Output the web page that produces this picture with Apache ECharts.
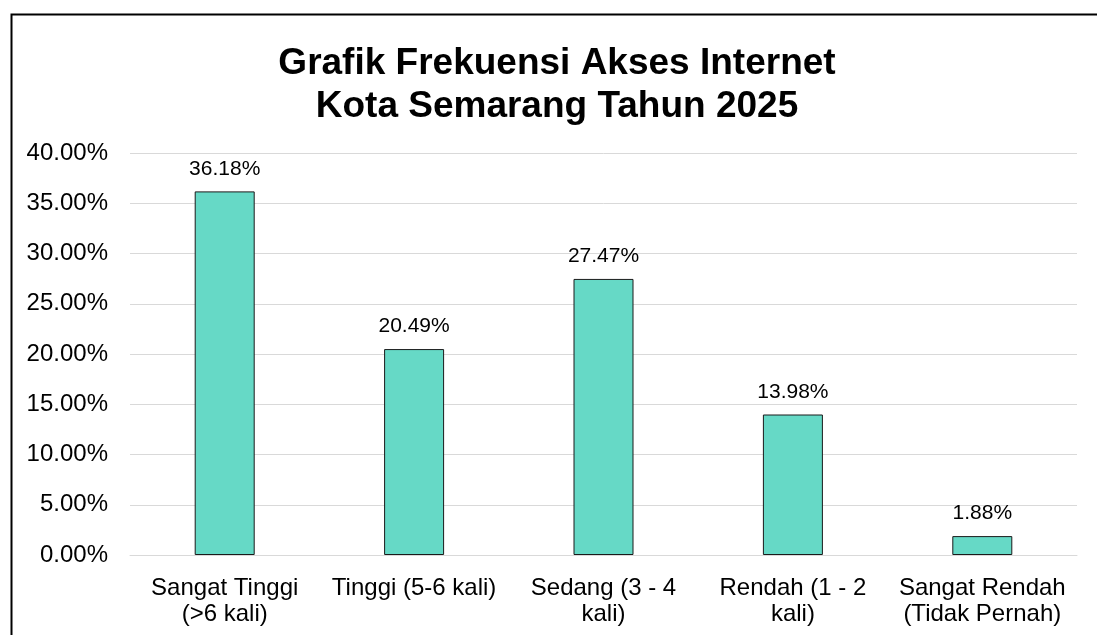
<!DOCTYPE html>
<html>
<head>
<meta charset="utf-8">
<script src="https://cdn.jsdelivr.net/npm/echarts@6/dist/echarts.min.js"></script>
<style>
  html, body { margin: 0; padding: 0; background: #fff; }
  #chart { width: 1097px; height: 635px; }
</style>
</head>
<body>
<div id="chart"></div>
<script>
;(function () {
  'use strict'

  var titleLines = ['Grafik Frekuensi Akses Internet', 'Kota Semarang Tahun 2025']
  var categories = [
    'Sangat Tinggi\n(>6 kali)',
    'Tinggi (5-6 kali)',
    'Sedang (3 - 4\nkali)',
    'Rendah (1 - 2\nkali)',
    'Sangat Rendah\n(Tidak Pernah)'
  ]
  var percentValues = [36.18, 20.49, 27.47, 13.98, 1.88]
  var yTicks = { min: 0, max: 40, interval: 5 }

  var FONT = 'Liberation Sans, Arial, sans-serif'
  var COLORS = {
    bar: '#66d9c6',
    barBorder: '#1a1a1a',
    text: '#000000',
    gridLine: '#d9d9d9'
  }

  var chart = echarts.init(document.getElementById('chart'), null, { renderer: 'canvas' })

  chart.setOption({
    backgroundColor: '#fff',
    animation: false,
    title: {
      text: titleLines.join('\n'),
      left: 552,
      top: 37,
      textAlign: 'center',
      textStyle: {
        fontFamily: FONT,
        fontWeight: 'bold',
        fontSize: 37,
        lineHeight: 43,
        color: COLORS.text
      }
    },
    graphic: [{
      type: 'rect',
      left: 9,
      top: 12,
      shape: { width: 1100, height: 640 },
      style: { fill: 'none', stroke: '#000', lineWidth: 2 },
      silent: true
    }],
    grid: { left: 130, right: 20, top: 153, bottom: 80 },
    xAxis: {
      type: 'category',
      data: categories,
      axisTick: { show: false },
      axisLine: { lineStyle: { color: COLORS.gridLine, width: 1 } },
      axisLabel: {
        interval: 0,
        margin: 20,
        fontFamily: FONT,
        fontSize: 24,
        lineHeight: 26,
        color: COLORS.text
      }
    },
    yAxis: {
      type: 'value',
      min: yTicks.min,
      max: yTicks.max,
      interval: yTicks.interval,
      axisLine: { show: false },
      axisTick: { show: false },
      splitLine: { lineStyle: { color: COLORS.gridLine, width: 1 } },
      axisLabel: {
        margin: 22,
        fontFamily: FONT,
        fontSize: 24,
        color: COLORS.text,
        formatter: function (v) { return v.toFixed(2) + '%' }
      }
    },
    series: [{
      type: 'bar',
      data: percentValues,
      barWidth: 60,
      itemStyle: { color: COLORS.bar, borderColor: COLORS.barBorder, borderWidth: 1 },
      label: {
        show: true,
        position: 'top',
        distance: 12,
        fontFamily: FONT,
        fontSize: 21,
        color: COLORS.text,
        formatter: function (p) { return p.value.toFixed(2) + '%' }
      }
    }]
  })
})()
</script>
</body>
</html>
